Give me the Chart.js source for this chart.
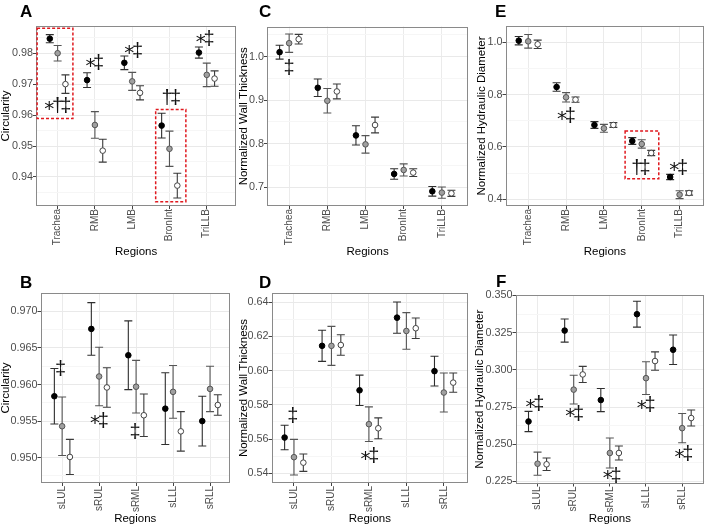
<!DOCTYPE html>
<html>
<head>
<meta charset="utf-8">
<script src="https://cdn.jsdelivr.net/npm/chart.js@4.4.0/dist/chart.umd.min.js"></script>
<style>
body { margin: 0; background: #fff; }
#wrap { position: relative; width: 708px; height: 526px; overflow: hidden; font-family: 'Liberation Sans', Arial, sans-serif; }
canvas { position: absolute; }
.tag { position: absolute; font-weight: bold; font-size: 17px; line-height: 17px; color: #000; }
</style>
</head>
<body>
<div id="wrap">
    <canvas id="chartA" width="240" height="263" style="left:0;top:0"></canvas>
    <canvas id="chartC" width="236" height="263" style="left:236px;top:0"></canvas>
    <canvas id="chartE" width="236" height="263" style="left:472px;top:0"></canvas>
    <canvas id="chartB" width="240" height="263" style="left:0;top:263px"></canvas>
    <canvas id="chartD" width="236" height="263" style="left:236px;top:263px"></canvas>
    <canvas id="chartF" width="236" height="263" style="left:472px;top:263px"></canvas>
    <div class="tag" style="left:20px;top:3px">A</div>
    <div class="tag" style="left:259px;top:3px">C</div>
    <div class="tag" style="left:495px;top:3px">E</div>
    <div class="tag" style="left:20px;top:274px">B</div>
    <div class="tag" style="left:259px;top:274px">D</div>
    <div class="tag" style="left:496px;top:273px">F</div>
</div>
<script>
const upperRegions = ['Trachea', 'RMB', 'LMB', 'BronInt', 'TriLLB'];
const lowerRegions = ['sLUL', 'sRUL', 'sRML', 'sLLL', 'sRLL'];

// A - circularity, central airways (groups 1 = black, 2 = grey, 3 = white)
const circUpperMean1 = [0.9847, 0.9713, 0.9769, 0.9566, 0.9802];
const circUpperSe1 = [0.0013, 0.0024, 0.0022, 0.0040, 0.0018];
const circUpperMean2 = [0.9800, 0.9568, 0.9709, 0.9491, 0.9730];
const circUpperSe2 = [0.0025, 0.0043, 0.0029, 0.0057, 0.0038];
const circUpperMean3 = [0.9700, 0.9485, 0.9672, 0.9372, 0.9718];
const circUpperSe3 = [0.0030, 0.0037, 0.0023, 0.0040, 0.0025];

// B - circularity, sublobar
const circLowerMean1 = [0.9584, 0.9676, 0.9640, 0.9567, 0.9550];
const circLowerSe1 = [0.0038, 0.0036, 0.0047, 0.0049, 0.0034];
const circLowerMean2 = [0.9543, 0.9611, 0.9597, 0.9590, 0.9594];
const circLowerSe2 = [0.0040, 0.0040, 0.0036, 0.0036, 0.0031];
const circLowerMean3 = [0.9501, 0.9596, 0.9558, 0.9536, 0.9572];
const circLowerSe3 = [0.0024, 0.0027, 0.0029, 0.0027, 0.0014];

// C - wall thickness, central airways
const wallUpperMean1 = [1.0100, 0.9283, 0.8191, 0.7306, 0.6908];
const wallUpperSe1 = [0.016, 0.020, 0.022, 0.012, 0.011];
const wallUpperMean2 = [1.0306, 0.8985, 0.7985, 0.7398, 0.6878];
const wallUpperSe2 = [0.021, 0.028, 0.020, 0.014, 0.013];
const wallUpperMean3 = [1.0398, 0.9199, 0.8429, 0.7337, 0.6862];
const wallUpperSe3 = [0.011, 0.017, 0.018, 0.009, 0.007];

// D - wall thickness, sublobar
const wallLowerMean1 = [0.5609, 0.6145, 0.5885, 0.6310, 0.5997];
const wallLowerSe1 = [0.0072, 0.0091, 0.0089, 0.0091, 0.0087];
const wallLowerMean2 = [0.5494, 0.6145, 0.5687, 0.6232, 0.5872];
const wallLowerSe2 = [0.0104, 0.0114, 0.0101, 0.0107, 0.0114];
const wallLowerMean3 = [0.5462, 0.6150, 0.5663, 0.6248, 0.5930];
const wallLowerSe3 = [0.0051, 0.0060, 0.0061, 0.0060, 0.0056];

// E - hydraulic diameter, central airways
const hydUpperMean1 = [1.0064, 0.8293, 0.6841, 0.6229, 0.4853];
const hydUpperSe1 = [0.016, 0.016, 0.013, 0.013, 0.010];
const hydUpperMean2 = [1.0038, 0.7898, 0.6713, 0.6115, 0.4178];
const hydUpperSe2 = [0.026, 0.018, 0.015, 0.016, 0.015];
const hydUpperMean3 = [0.9924, 0.7809, 0.6841, 0.5771, 0.4242];
const hydUpperSe3 = [0.016, 0.010, 0.009, 0.010, 0.008];

// F - hydraulic diameter, sublobar
const hydLowerMean1 = [0.2653, 0.3264, 0.2797, 0.3374, 0.3135];
const hydLowerSe1 = [0.0068, 0.0078, 0.0078, 0.0087, 0.0099];
const hydLowerMean2 = [0.2369, 0.2867, 0.2441, 0.2944, 0.2608];
const hydLowerSe2 = [0.0078, 0.0097, 0.0101, 0.0110, 0.0098];
const hydLowerMean3 = [0.2365, 0.2969, 0.2441, 0.3059, 0.2676];
const hydLowerSe3 = [0.0042, 0.0054, 0.0047, 0.0062, 0.0054];

// y tick labels
const ticksA = ['0.94', '0.95', '0.96', '0.97', '0.98'];
const ticksB = ['0.950', '0.955', '0.960', '0.965', '0.970'];
const ticksC = ['0.7', '0.8', '0.9', '1.0'];
const ticksD = ['0.54', '0.56', '0.58', '0.60', '0.62', '0.64'];
const ticksE = ['0.4', '0.6', '0.8', '1.0'];
const ticksF = ['0.225', '0.250', '0.275', '0.300', '0.325', '0.350'];

// significance marks (x = region index, y = data value)
const notesA = [
    { x: 0, y: 0.9632, text: '*†‡' },
    { x: 0.99, y: 0.9770, text: '*‡' },
    { x: 2.03, y: 0.9811, text: '*‡' },
    { x: 3.05, y: 0.9659, text: '†‡' },
    { x: 3.95, y: 0.9849, text: '*‡' }
];
const notesB = [
    { x: -0.04, y: 0.9622, text: '‡' },
    { x: 1.0, y: 0.9552, text: '*‡' },
    { x: 1.97, y: 0.9537, text: '‡' }
];
const notesC = [{ x: 0, y: 0.977, text: '‡' }];
const notesD = [
    { x: -0.03, y: 0.5741, text: '‡' },
    { x: 2.02, y: 0.5505, text: '*‡' }
];
const notesE = [
    { x: 1.0, y: 0.721, text: '*‡' },
    { x: 2.98, y: 0.525, text: '†‡' },
    { x: 3.97, y: 0.525, text: '*‡' }
];
const notesF = [
    { x: -0.08, y: 0.2775, text: '*‡' },
    { x: 1.02, y: 0.2712, text: '*‡' },
    { x: 2.06, y: 0.2295, text: '*‡' },
    { x: 3.0, y: 0.2768, text: '*‡' },
    { x: 4.04, y: 0.2441, text: '*‡' }
];

// highlighted regions (red dashed boxes)
const boxesA = [
    { x0: -0.55, x1: 0.41, y0: 0.9589, y1: 0.9881 },
    { x0: 2.63, x1: 3.44, y0: 0.9320, y1: 0.9618 }
];
const boxesE = [{ x0: 2.56, x1: 3.45, y0: 0.479, y1: 0.6611 }];

const fills = ['#000000', '#a0a0a0', '#ffffff'];
const edges = ['#000000', '#555555', '#444444'];
const barColors = ['#2e2e2e', '#555555', '#3a3a3a'];
const fontFamily = "'Liberation Sans', Arial, sans-serif";

function buildTicks(labels, min, max) {
    const majors = labels.map(l => parseFloat(l));
    const step = majors[1] - majors[0];
    const ticks = [];
    for (let k = -1; k < majors.length; k++) {
        const base = k < 0 ? majors[0] - step : majors[k];
        if (k >= 0) ticks.push({ value: majors[k], label: labels[k] });
        const mid = base + step / 2;
        if (mid > min && mid < max) ticks.push({ value: mid, label: '', minor: true });
    }
    return ticks.sort((a, b) => a.value - b.value);
}

function decor(cfg) {
    return {
        id: 'decor',
        beforeDatasetsDraw(chart) {
            const { ctx, chartArea: a, scales: { x, y } } = chart;
            ctx.save();
            ctx.strokeStyle = '#8a8a8a';
            ctx.lineWidth = 1;
            ctx.strokeRect(Math.round(a.left) + 0.5, Math.round(a.top) + 0.5,
                Math.round(a.right) - Math.round(a.left) - 1, Math.round(a.bottom) - Math.round(a.top) - 1);

            chart.data.datasets.forEach((ds, g) => {
                ctx.strokeStyle = barColors[g];
                ctx.lineWidth = 1.1;
                ds.data.forEach((p, i) => {
                    const px = x.getPixelForValue(p.x);
                    const top = y.getPixelForValue(p.y + ds.errors[i]);
                    const bot = y.getPixelForValue(p.y - ds.errors[i]);
                    ctx.beginPath();
                    ctx.moveTo(px, top);
                    ctx.lineTo(px, bot);
                    ctx.moveTo(px - 4, top);
                    ctx.lineTo(px + 4, top);
                    ctx.moveTo(px - 4, bot);
                    ctx.lineTo(px + 4, bot);
                    ctx.stroke();
                });
            });
            ctx.restore();
        },
        afterDatasetsDraw(chart) {
            const { ctx, scales: { x, y } } = chart;
            ctx.save();
            ctx.strokeStyle = '#e0191f';
            ctx.lineWidth = 1.5;
            ctx.setLineDash([3, 2]);
            (cfg.boxes || []).forEach(b => {
                const l = x.getPixelForValue(b.x0), r = x.getPixelForValue(b.x1);
                const t = y.getPixelForValue(b.y1), btm = y.getPixelForValue(b.y0);
                ctx.strokeRect(l, t, r - l, btm - t);
            });
            ctx.setLineDash([]);

            // significance marks, each glyph centred on its y value
            ctx.fillStyle = '#111';
            ctx.textAlign = 'center';
            ctx.textBaseline = 'alphabetic';
            const step = 8.3;
            cfg.notes.forEach(n => {
                const chars = [...n.text];
                const cx = x.getPixelForValue(n.x);
                const cy = y.getPixelForValue(n.y);
                chars.forEach((ch, k) => {
                    ctx.font = ch === '*' ? '20px "DejaVu Sans"' : '20px "Liberation Sans"';
                    const m = ctx.measureText(ch);
                    const gx = cx + (k - (chars.length - 1) / 2) * step;
                    const gy = cy + (m.actualBoundingBoxAscent - m.actualBoundingBoxDescent) / 2;
                    ctx.fillText(ch, gx, gy);
                });
            });
            ctx.restore();
        }
    };
}

function makePanel(cfg) {
    const canvas = document.getElementById(cfg.canvas);
    const W = canvas.width, H = canvas.height;
    const padLeft = cfg.yTitleX - 5.75;
    const padBottom = H - (cfg.xTitleY + 5.75);
    const yTicks = buildTicks(cfg.tickLabels, cfg.yMin, cfg.yMax);

    const datasets = cfg.means.map((m, g) => ({
        data: m.map((v, i) => ({ x: i + (g - 1) * cfg.dodge, y: v })),
        errors: cfg.errs[g],
        pointRadius: 2.8,
        pointHoverRadius: 2.8,
        pointBackgroundColor: fills[g],
        pointBorderColor: edges[g],
        pointBorderWidth: 1,
        showLine: false
    }));

    new Chart(canvas, {
        type: 'scatter',
        data: { datasets },
        options: {
            responsive: false,
            animation: false,
            devicePixelRatio: 1,
            layout: { padding: { left: padLeft, right: W - cfg.area.right, top: cfg.area.top, bottom: padBottom } },
            plugins: { legend: { display: false }, tooltip: { enabled: false } },
            scales: {
                x: {
                    type: 'linear',
                    min: cfg.xMin,
                    max: cfg.xMax,
                    afterBuildTicks: s => { s.ticks = cfg.regions.map((r, i) => ({ value: i })); },
                    afterFit: s => { s.height = H - padBottom - cfg.area.bottom; },
                    ticks: {
                        autoSkip: false, minRotation: 90, maxRotation: 90, padding: 0,
                        color: '#4d4d4d', font: { family: fontFamily, size: 10 },
                        callback: v => cfg.regions[v]
                    },
                    grid: { color: '#ebebeb', tickColor: '#444', tickLength: 3 },
                    border: { display: false },
                    title: { display: true, text: 'Regions', color: '#000', padding: 0,
                        font: { family: fontFamily, size: 11.5, lineHeight: 1 } }
                },
                y: {
                    type: 'linear',
                    min: cfg.yMin,
                    max: cfg.yMax,
                    afterBuildTicks: s => { s.ticks = yTicks.map(t => Object.assign({}, t)); },
                    afterFit: s => { s.width = cfg.area.left - padLeft; },
                    ticks: {
                        padding: 0, color: '#4d4d4d', font: { family: fontFamily, size: 10.8 },
                        callback: (v, i, t) => t[i].minor ? '' : t[i].label
                    },
                    grid: {
                        color: c => c.tick && c.tick.minor ? '#f6f6f6' : '#e9e9e9',
                        tickColor: c => c.tick && c.tick.minor ? 'rgba(0,0,0,0)' : '#444',
                        tickLength: 3
                    },
                    border: { display: false },
                    title: { display: true, text: cfg.yTitle, color: '#000', padding: 0,
                        font: { family: fontFamily, size: 11.5, lineHeight: 1 } }
                }
            }
        },
        plugins: [decor(cfg)]
    });
}

makePanel({
    canvas: 'chartA', regions: upperRegions, yTitle: 'Circularity', tickLabels: ticksA,
    means: [circUpperMean1, circUpperMean2, circUpperMean3], errs: [circUpperSe1, circUpperSe2, circUpperSe3],
    yMin: 0.9306, yMax: 0.9888, xMin: -0.58, xMax: 4.79, dodge: 0.21,
    area: { left: 36, right: 239, top: 26, bottom: 206 }, yTitleX: 6, xTitleY: 251.7,
    notes: notesA, boxes: boxesA
});
makePanel({
    canvas: 'chartC', regions: upperRegions, yTitle: 'Normalized Wall Thickness', tickLabels: ticksC,
    means: [wallUpperMean1, wallUpperMean2, wallUpperMean3], errs: [wallUpperSe1, wallUpperSe2, wallUpperSe3],
    yMin: 0.6571, yMax: 1.0689, xMin: -0.58, xMax: 4.69, dodge: 0.25,
    area: { left: 31, right: 235.5, top: 26.5, bottom: 206 }, yTitleX: 8.3, xTitleY: 251.7,
    notes: notesC
});
makePanel({
    canvas: 'chartE', regions: upperRegions, yTitle: 'Normalized Hydraulic Diameter', tickLabels: ticksE,
    means: [hydUpperMean1, hydUpperMean2, hydUpperMean3], errs: [hydUpperSe1, hydUpperSe2, hydUpperSe3],
    yMin: 0.3745, yMax: 1.0624, xMin: -0.6, xMax: 4.65, dodge: 0.25,
    area: { left: 33.5, right: 236, top: 26, bottom: 206 }, yTitleX: 10, xTitleY: 251.7,
    notes: notesE, boxes: boxesE
});
makePanel({
    canvas: 'chartB', regions: lowerRegions, yTitle: 'Circularity', tickLabels: ticksB,
    means: [circLowerMean1, circLowerMean2, circLowerMean3], errs: [circLowerSe1, circLowerSe2, circLowerSe3],
    yMin: 0.94654, yMax: 0.97251, xMin: -0.585, xMax: 4.54, dodge: 0.21,
    area: { left: 40.5, right: 230, top: 30, bottom: 220 }, yTitleX: 6, xTitleY: 256,
    notes: notesB
});
makePanel({
    canvas: 'chartD', regions: lowerRegions, yTitle: 'Normalized Wall Thickness', tickLabels: ticksD,
    means: [wallLowerMean1, wallLowerMean2, wallLowerMean3], errs: [wallLowerSe1, wallLowerSe2, wallLowerSe3],
    yMin: 0.5343, yMax: 0.6454, xMin: -0.6, xMax: 4.65, dodge: 0.25,
    area: { left: 35.5, right: 235, top: 30, bottom: 220 }, yTitleX: 8.3, xTitleY: 256,
    notes: notesD
});
makePanel({
    canvas: 'chartF', regions: lowerRegions, yTitle: 'Normalized Hydraulic Diameter', tickLabels: ticksF,
    means: [hydLowerMean1, hydLowerMean2, hydLowerMean3], errs: [hydLowerSe1, hydLowerSe2, hydLowerSe3],
    yMin: 0.2236, yMax: 0.3503, xMin: -0.61, xMax: 4.61, dodge: 0.25,
    area: { left: 43.5, right: 235, top: 32, bottom: 220.5 }, yTitleX: 8.3, xTitleY: 256,
    notes: notesF
});
</script>
</body>
</html>
